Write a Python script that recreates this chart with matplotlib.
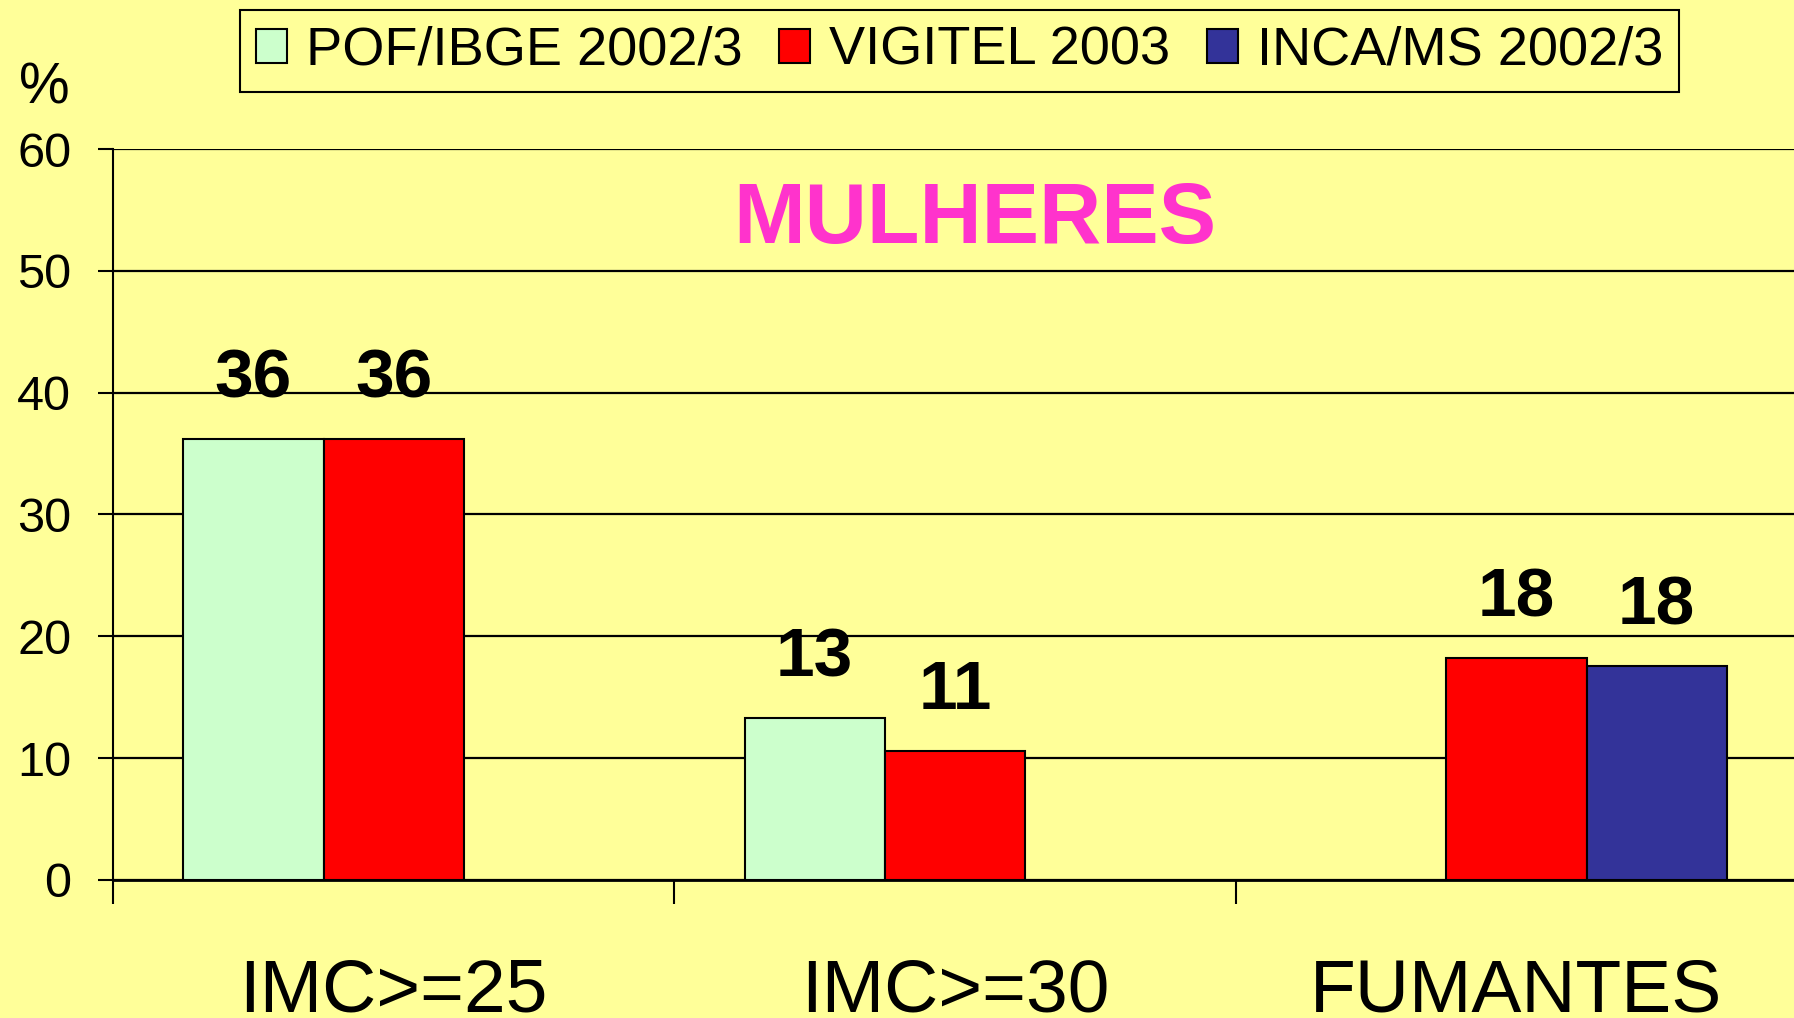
"""
MULHERES: excesso de peso, obesidade e fumantes por fonte de dados.
"""
import numpy as np
import matplotlib
matplotlib.use("Agg")
from matplotlib import pyplot as plt

categories = ["IMC>=25", "IMC>=30", "FUMANTES"]
series = ["POF/IBGE 2002/3", "VIGITEL 2003", "INCA/MS 2002/3"]
pof = [36.2, 13.3, np.nan]
vigitel = [36.2, 10.6, 18.2]
inca = [np.nan, np.nan, 17.6]
colors = ["#CCFFCC", "#FF0000", "#333399"]
BG = "#FFFF99"

plt.rcParams["font.family"] = ["Liberation Sans", "DejaVu Sans"]

fig = plt.figure(figsize=(17.94, 10.18), dpi=100, facecolor=BG)
ax = fig.add_axes([0.063, 0.1356, 0.9387, 0.718])
ax.set_facecolor(BG)

x = np.arange(len(categories)) + 0.5
width = 0.25
for i, (name, vals, col) in enumerate(zip(series, [pof, vigitel, inca], colors)):
    pos = x + (i - 1) * width
    ax.bar(pos, vals, width, color=col, edgecolor="black", linewidth=1.5,
           label=name, zorder=3)
    for p, v in zip(pos, vals):
        if np.isnan(v):
            continue
        ax.text(p, v + 3.4, str(int(v + 0.5)), ha="center", va="baseline",
                fontsize=50, fontweight="bold")

ax.set_xlim(0, 3)
ax.set_ylim(0, 60)
ax.set_yticks(range(0, 61, 10))
ax.set_xticks(x)
ax.set_xticklabels(categories, fontsize=54)
ax.set_xticks(range(0, 4), minor=True)
ax.tick_params(axis="x", which="major", length=0, pad=56)
ax.tick_params(axis="x", which="minor", length=17, width=1.5, direction="out")
ax.tick_params(axis="y", length=11, width=1.5, direction="out", pad=19, labelsize=35)
ax.yaxis.grid(True, color="black", linewidth=1.6)
ax.set_axisbelow(True)
for s in ["top", "right"]:
    ax.spines[s].set_visible(False)
ax.spines["left"].set_linewidth(1.5)
ax.spines["bottom"].set_linewidth(2)

ax.text(0.512, 0.901, "MULHERES", transform=ax.transAxes, ha="center", va="center",
        fontsize=62, fontweight="bold", color="#FF33CC")
fig.text(0.0245, 0.913, "%", ha="center", va="center", fontsize=41)

leg = fig.legend(loc="center", bbox_to_anchor=(0.5348, 0.950), ncol=3, fontsize=39,
                 frameon=True, facecolor=BG, edgecolor="black", fancybox=False,
                 framealpha=1, handlelength=0.58, handleheight=0.58,
                 handletextpad=0.34, columnspacing=0.68, borderpad=0.3)
leg.get_frame().set_linewidth(1.5)

fig.savefig("out.png", dpi=100, facecolor=BG)
